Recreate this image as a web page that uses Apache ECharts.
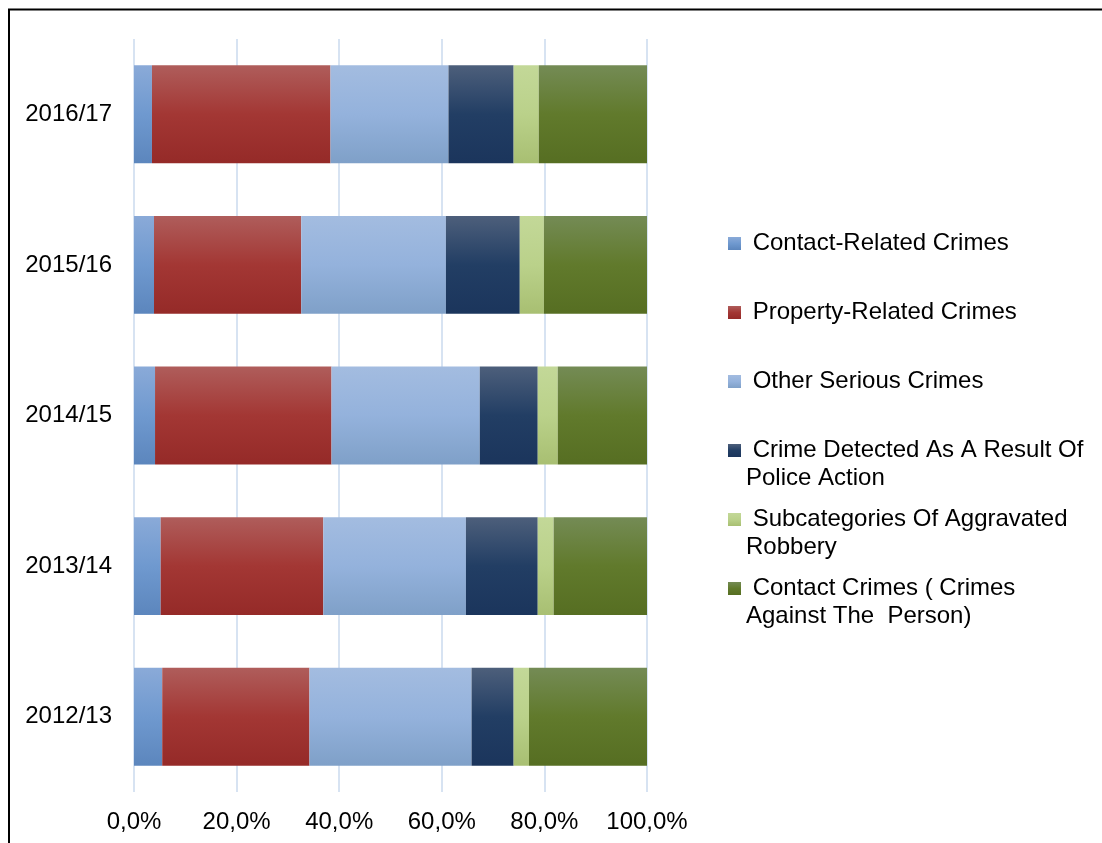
<!DOCTYPE html>
<html>
<head>
<meta charset="utf-8">
<title>Crime categories by year</title>
<script src="https://cdn.jsdelivr.net/npm/echarts@6/dist/echarts.min.js"></script>
<style>
  html, body { margin: 0; padding: 0; background: #fff; }
  #chart { width: 1102px; height: 843px; }
</style>
</head>
<body>
<div id="chart"></div>
<script>
// Financial years, bottom to top
const categories = ['2012/13', '2013/14', '2014/15', '2015/16', '2016/17'];

// Share of each crime category per year (percent)
const contactRelated    = [5.5, 5.2, 4.1, 3.9, 3.5];
const propertyRelated   = [28.7, 31.7, 34.4, 28.7, 34.8];
const otherSerious      = [31.6, 27.8, 28.9, 28.2, 23.0];
const policeAction      = [8.2, 14.0, 11.3, 14.4, 12.7];
const aggravatedRobbery = [3.0, 3.1, 3.9, 4.7, 4.9];
const contactCrimes     = [23.0, 18.2, 17.4, 20.1, 21.1];

// Series names and the wrapped text shown in the legend
const seriesNames = [
  'Contact-Related Crimes',
  'Property-Related Crimes',
  'Other Serious Crimes',
  'Crime Detected As A Result Of Police Action',
  'Subcategories Of Aggravated Robbery',
  'Contact Crimes ( Crimes Against The  Person)'
];
const legendLabels = [
  ' Contact-Related Crimes',
  ' Property-Related Crimes',
  ' Other Serious Crimes',
  ' Crime Detected As A Result Of\nPolice Action',
  ' Subcategories Of Aggravated\nRobbery',
  ' Contact Crimes ( Crimes\nAgainst The  Person)'
];

// Percentage axis tick labels
const xTickLabels = ['0,0%', '20,0%', '40,0%', '60,0%', '80,0%', '100,0%'];

const seriesData = [contactRelated, propertyRelated, otherSerious, policeAction, aggravatedRobbery, contactCrimes];

// Vertical shading for each category: top, middle, bottom
const shades = [
  ['#8AAAD8', '#6F99CF', '#5C86BD'],
  ['#AF5D5B', '#A33734', '#952A28'],
  ['#A3BCE0', '#94B2DC', '#7FA0C8'],
  ['#4D5F7B', '#223E64', '#1B355C'],
  ['#C3D898', '#BAD18A', '#A8BF72'],
  ['#748B55', '#617A2C', '#566E22']
];

const FONT = "'Liberation Sans', Arial, sans-serif";
const FS = 24;

function shade(c) {
  return new echarts.graphic.LinearGradient(0, 0, 0, 1, [
    { offset: 0, color: c[0] },
    { offset: 0.5, color: c[1] },
    { offset: 1, color: c[2] }
  ]);
}

const series = seriesNames.map((name, i) => ({
  name: name,
  type: 'bar',
  stack: 'total',
  barCategoryGap: '35%',
  data: seriesData[i],
  itemStyle: { color: shade(shades[i]) },
  emphasis: { disabled: true }
}));

// One legend block per series so every entry sits on its own row.
// Wrapped entries get a blank leading line so the marker lines up
// with the first line of text.
const markerCenters = [243.5, 312.5, 381.5, 450.5, 519.5, 588.5];
const LINE_H = 28;
const legends = seriesNames.map((name, i) => {
  const wrapped = legendLabels[i].indexOf('\n') >= 0;
  const text = wrapped ? '\n' + legendLabels[i] : legendLabels[i];
  const lines = text.split('\n').length;
  const boxH = lines * LINE_H;
  return {
    show: true,
    orient: 'vertical',
    left: 728,
    top: markerCenters[i] - boxH / 2,
    padding: 0,
    itemWidth: 13,
    itemHeight: 13,
    icon: 'rect',
    selectedMode: false,
    data: [name],
    formatter: () => text,
    textStyle: {
      color: '#000',
      fontFamily: FONT,
      fontSize: FS,
      lineHeight: LINE_H
    }
  };
});

const chart = echarts.init(document.getElementById('chart'), null, { renderer: 'canvas' });

chart.setOption({
  animation: false,
  backgroundColor: '#fff',
  grid: { left: 134, right: 455, top: 39, bottom: 51, containLabel: false },
  xAxis: {
    type: 'value',
    min: 0,
    max: 100,
    interval: 20,
    axisLine: { show: false },
    axisTick: { show: false },
    splitLine: { show: true, lineStyle: { color: '#D7E3F2', width: 2 } },
    axisLabel: {
      color: '#000',
      fontFamily: FONT,
      fontSize: FS,
      margin: 18,
      formatter: v => xTickLabels[Math.round(v / 20)]
    }
  },
  yAxis: {
    type: 'category',
    data: categories,
    axisLine: { show: false },
    axisTick: { show: false },
    splitLine: { show: false },
    axisLabel: {
      color: '#000',
      fontFamily: FONT,
      fontSize: FS,
      margin: 22
    }
  },
  legend: legends,
  series: series,
  graphic: [{
    type: 'polyline',
    silent: true,
    shape: { points: [[9, 843], [9, 9.5], [1102, 9.5]] },
    style: { stroke: '#000', lineWidth: 2, fill: null }
  }]
});
</script>
</body>
</html>
